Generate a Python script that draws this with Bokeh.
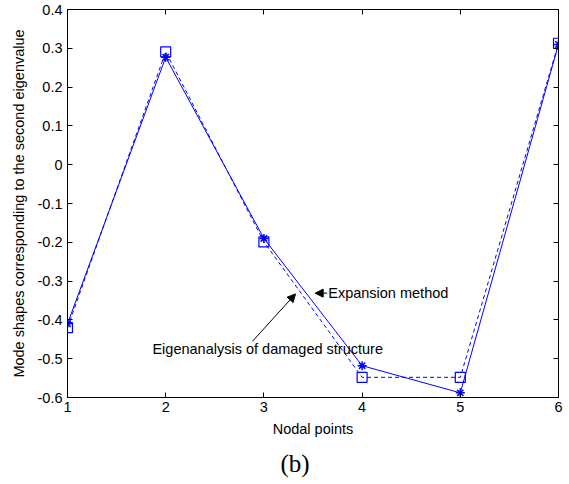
from bokeh.plotting import figure
from bokeh.models import (LinearAxis, FixedTicker, Label, Arrow, NormalHead, Title, Range1d)
from bokeh.embed import file_html
from bokeh.resources import INLINE

# ---- data ----
nodes = [1, 2, 3, 4, 5, 6]
expansion = [-0.41, 0.277, -0.19, -0.518, -0.588, 0.31]
eigen_damaged = [-0.42, 0.291, -0.199, -0.548, -0.548, 0.313]

x_ticks = [1, 2, 3, 4, 5, 6]
y_ticks = [-0.6, -0.5, -0.4, -0.3, -0.2, -0.1, 0.0, 0.1, 0.2, 0.3, 0.4]
y_tick_labels = ["-0.6", "-0.5", "-0.4", "-0.3", "-0.2", "-0.1", "0", "0.1", "0.2", "0.3", "0.4"]

exp_text = "Expansion method"
exp_text_pos = (3.655, -0.33)
exp_arrow = (3.645, -0.331, 3.522, -0.331)

eig_text = "Eigenanalysis of damaged structure"
eig_text_pos = (1.865, -0.476)
eig_arrow = (2.884, -0.455, 3.322, -0.333)

FONT = "Liberation Sans"
FS = "14.5px"
BLUE = "#0000FF"

p = figure(width=569, height=484, output_backend="svg", toolbar_location=None,
           x_range=Range1d(1, 6), y_range=Range1d(-0.6, 0.4),
           min_border_left=67, min_border_right=11, min_border_top=9, min_border_bottom=20,
           x_axis_label="Nodal points",
           y_axis_label="Mode shapes corresponding to the second eigenvalue")
p.background_fill_color = "white"
p.border_fill_color = "white"
p.outline_line_color = "black"
p.outline_line_width = 1
p.xgrid.visible = False
p.ygrid.visible = False

def style_axis(ax, labels=True):
    ax.axis_line_color = "black"
    ax.major_tick_line_color = "black"
    ax.major_tick_in = 5
    ax.major_tick_out = 0
    ax.minor_tick_line_color = None
    ax.major_label_text_font = FONT
    ax.major_label_text_font_size = FS if labels else "1px"
    ax.major_label_text_color = "black"
    ax.axis_label_text_font = FONT
    ax.axis_label_text_font_size = FS
    ax.axis_label_text_font_style = "normal"
    ax.axis_label_text_color = "black"

xa = p.xaxis[0]
ya = p.yaxis[0]
xa.ticker = FixedTicker(ticks=x_ticks)
ya.ticker = FixedTicker(ticks=y_ticks)
ya.major_label_overrides = {t: l for t, l in zip(y_ticks, y_tick_labels)}
style_axis(xa)
style_axis(ya)
xa.major_label_standoff = 4
xa.axis_label_standoff = 6
ya.major_label_standoff = 5
ya.axis_label_standoff = 8

top = LinearAxis(ticker=FixedTicker(ticks=x_ticks), major_label_standoff=0,
                 major_label_overrides={t: "" for t in x_ticks})
right = LinearAxis(ticker=FixedTicker(ticks=y_ticks), major_label_standoff=0,
                   major_label_overrides={t: "" for t in y_ticks})
style_axis(top, labels=False)
style_axis(right, labels=False)
p.add_layout(top, "above")
p.add_layout(right, "right")

# lines
p.line(nodes, eigen_damaged, line_color=BLUE, line_width=1, line_dash="4 3")
p.scatter(nodes, eigen_damaged, marker="square", size=10, fill_color=None,
          line_color=BLUE, line_width=1.2)
p.line(nodes, expansion, line_color=BLUE, line_width=1)
p.scatter(nodes, expansion, marker="asterisk", size=9, line_color=BLUE, line_width=1.5)

# annotations
p.add_layout(Label(x=exp_text_pos[0], y=exp_text_pos[1], text=exp_text,
                   text_font=FONT, text_font_size=FS, text_color="black",
                   text_baseline="middle", text_align="left"))
p.add_layout(Arrow(x_start=exp_arrow[0], y_start=exp_arrow[1], x_end=exp_arrow[2], y_end=exp_arrow[3],
                   line_color="black", line_width=1,
                   end=NormalHead(size=8, fill_color="black", line_color="black")))
p.add_layout(Label(x=eig_text_pos[0], y=eig_text_pos[1], text=eig_text,
                   text_font=FONT, text_font_size=FS, text_color="black",
                   text_baseline="middle", text_align="left"))
p.add_layout(Arrow(x_start=eig_arrow[0], y_start=eig_arrow[1], x_end=eig_arrow[2], y_end=eig_arrow[3],
                   line_color="black", line_width=1,
                   end=NormalHead(size=8, fill_color="black", line_color="black")))

p.add_layout(Title(text="(b)", align="left", offset=213, text_font="Liberation Serif",
                   text_font_size="25px", text_font_style="normal", text_color="black",
                   standoff=16), "below")

open("out.html", "w").write(file_html(p, INLINE))
